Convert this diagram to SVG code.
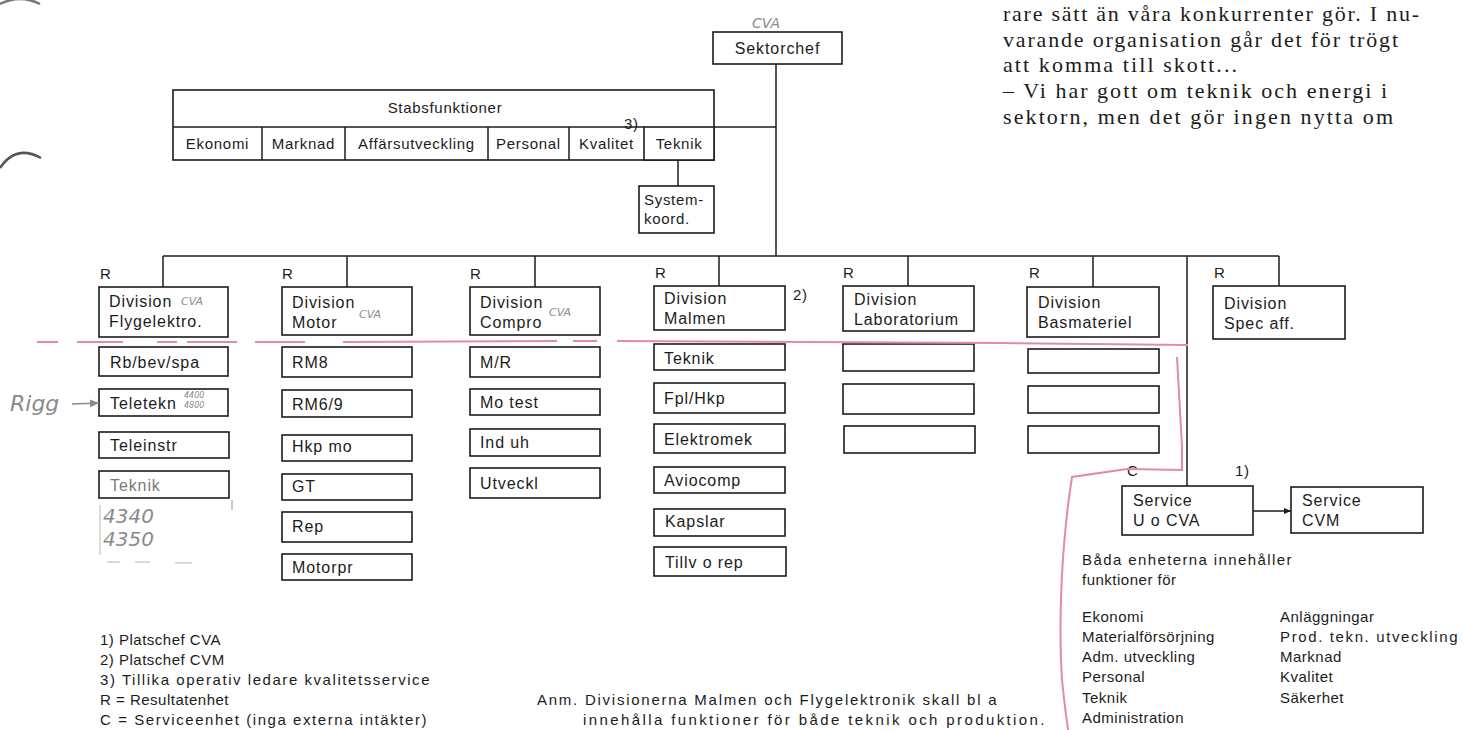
<svg xmlns="http://www.w3.org/2000/svg" width="1464" height="730" viewBox="0 0 1464 730">
<style>
.bg{fill:#fff}
.box{fill:#fff;stroke:#1c1c1c;stroke-width:1.6}
.ln{fill:none;stroke:#1c1c1c;stroke-width:1.5}
.t{font-family:'Liberation Sans',Arial,sans-serif;font-size:16px;fill:#1c1c1c;letter-spacing:0.9px}
.s{font-family:'Liberation Sans',Arial,sans-serif;font-size:15px;fill:#1c1c1c;letter-spacing:0.7px}
.lg{font-family:'Liberation Sans',Arial,sans-serif;font-size:15px;fill:#1c1c1c;letter-spacing:0.5px}
.serif{font-family:'Liberation Serif','Times New Roman',serif;font-size:22px;fill:#1c1c1c}
.hand{font-family:'DejaVu Sans',sans-serif;font-style:italic;fill:#8a8a8a}
.gray{fill:#7a7a7a}
.pink{fill:none;stroke:#e38aa5;stroke-width:2}
</style>
<defs>
<marker id="arr" markerWidth="8" markerHeight="8" refX="7" refY="4" orient="auto" markerUnits="userSpaceOnUse">
<path d="M0,1 L7,4 L0,7 Z" fill="#1c1c1c"/>
</marker>
<marker id="harr" markerWidth="10" markerHeight="10" refX="9" refY="5" orient="auto" markerUnits="userSpaceOnUse">
<path d="M0,1 L9,5 L0,9 Z" fill="#8a8a8a"/>
</marker>
</defs>
<rect class="bg" x="0" y="0" width="1464" height="730"/>

<!-- page hole arcs -->
<path d="M0,4 Q20,-6 40,4" fill="none" stroke="#777" stroke-width="2.5"/>
<path d="M0,168 Q16,144 41,158" fill="none" stroke="#555" stroke-width="2.5"/>

<!-- top-right article text -->
<g id="article">
<text class="serif" x="1003" y="21" textLength="416" lengthAdjust="spacing">rare sätt än våra konkurrenter gör. I nu-</text>
<text class="serif" x="1003" y="47" textLength="395" lengthAdjust="spacing">varande organisation går det för trögt</text>
<text class="serif" x="1003" y="72" textLength="234" lengthAdjust="spacing">att komma till skott...</text>
<text class="serif" x="1003" y="98" textLength="384" lengthAdjust="spacing">– Vi har gott om teknik och energi i</text>
<text class="serif" x="1003" y="124" textLength="390" lengthAdjust="spacing">sektorn, men det gör ingen nytta om</text>
</g>

<!-- connectors -->
<g id="connectors">
<line class="ln" x1="776" y1="64" x2="776" y2="256"/>
<line class="ln" x1="644" y1="127" x2="776" y2="127"/>
<line class="ln" x1="678" y1="160" x2="678" y2="186"/>
<line class="ln" x1="163" y1="256" x2="1279" y2="256"/>
<line class="ln" x1="163" y1="256" x2="163" y2="287"/>
<line class="ln" x1="347" y1="256" x2="347" y2="287"/>
<line class="ln" x1="535" y1="256" x2="535" y2="287"/>
<line class="ln" x1="719" y1="256" x2="719" y2="286"/>
<line class="ln" x1="908" y1="256" x2="908" y2="286"/>
<line class="ln" x1="1093" y1="256" x2="1093" y2="287"/>
<line class="ln" x1="1279" y1="256" x2="1279" y2="286"/>
<line class="ln" x1="1187" y1="256" x2="1187" y2="486"/>
<line class="ln" x1="1253" y1="511" x2="1291" y2="511" stroke-width="1.2" marker-end="url(#arr)"/>
</g>

<!-- top -->
<g id="sektorchef">
<rect class="box" x="713" y="32" width="129" height="32"/>
<text class="t" x="777.5" y="54" text-anchor="middle">Sektorchef</text>
<text class="hand" x="766" y="28" font-size="14" text-anchor="middle">CVA</text>
</g>

<g id="stabsfunktioner">
<rect class="box" x="173" y="90" width="541" height="70"/>
<line class="ln" x1="173" y1="127" x2="644" y2="127"/>
<line class="ln" x1="262" y1="127" x2="262" y2="160"/>
<line class="ln" x1="345" y1="127" x2="345" y2="160"/>
<line class="ln" x1="488" y1="127" x2="488" y2="160"/>
<line class="ln" x1="569" y1="127" x2="569" y2="160"/>
<text class="s" x="445" y="113" text-anchor="middle">Stabsfunktioner</text>
<text class="s" x="217.5" y="149" text-anchor="middle">Ekonomi</text>
<text class="s" x="303.5" y="149" text-anchor="middle">Marknad</text>
<text class="s" x="416.5" y="149" text-anchor="middle">Affärsutveckling</text>
<text class="s" x="528.5" y="149" text-anchor="middle">Personal</text>
<text class="s" x="606.5" y="149" text-anchor="middle">Kvalitet</text>
<text class="s" x="624" y="129">3)</text>
</g>
<g id="stab-teknik">
<rect class="box" x="644" y="127" width="70" height="33"/>
<text class="s" x="679" y="149" text-anchor="middle">Teknik</text>
</g>
<g id="systemkoord">
<rect class="box" x="639" y="186" width="75" height="47"/>
<text class="s" x="644" y="205">System-</text>
<text class="s" x="644" y="224">koord.</text>
</g>

<!-- divisions -->
<g id="div-flygelektro">
<text class="s" x="100" y="279">R</text>
<rect class="box" x="99" y="287" width="129" height="50"/>
<text class="t" x="109" y="307">Division</text>
<text class="t" x="109" y="327">Flygelektro.</text>
<text class="hand" x="181" y="305" font-size="11">CVA</text>
</g>
<g id="div-motor">
<text class="s" x="282" y="279">R</text>
<rect class="box" x="282" y="287" width="130" height="48"/>
<text class="t" x="292" y="308">Division</text>
<text class="t" x="292" y="328">Motor</text>
<text class="hand" x="359" y="318" font-size="11">CVA</text>
</g>
<g id="div-compro">
<text class="s" x="470" y="279">R</text>
<rect class="box" x="470" y="287" width="130" height="48"/>
<text class="t" x="480" y="308">Division</text>
<text class="t" x="480" y="328">Compro</text>
<text class="hand" x="549" y="316" font-size="11">CVA</text>
</g>
<g id="div-malmen">
<text class="s" x="655" y="278">R</text>
<rect class="box" x="654" y="286" width="131" height="44"/>
<text class="t" x="664" y="304">Division</text>
<text class="t" x="664" y="324">Malmen</text>
<text class="s" x="793" y="300">2)</text>
</g>
<g id="div-laboratorium">
<text class="s" x="843" y="278">R</text>
<rect class="box" x="843" y="286" width="131" height="45"/>
<text class="t" x="854" y="305">Division</text>
<text class="t" x="854" y="325">Laboratorium</text>
</g>
<g id="div-basmateriel">
<text class="s" x="1029" y="278">R</text>
<rect class="box" x="1027" y="287" width="132" height="50"/>
<text class="t" x="1038" y="308">Division</text>
<text class="t" x="1038" y="328">Basmateriel</text>
</g>
<g id="div-specaff">
<text class="s" x="1214" y="278">R</text>
<rect class="box" x="1213" y="286" width="132" height="53"/>
<text class="t" x="1224" y="309">Division</text>
<text class="t" x="1224" y="329">Spec aff.</text>
</g>

<!-- Flygelektro units -->
<g id="u-rbbevspa"><rect class="box" x="99" y="347" width="129" height="29"/><text class="t" x="110" y="368">Rb/bev/spa</text></g>
<g id="u-teletekn"><rect class="box" x="99" y="389" width="129" height="27"/><text class="t" x="110" y="409">Teletekn</text>
<text class="hand" x="184" y="398" font-size="8">4400</text><text class="hand" x="184" y="408" font-size="8">4800</text></g>
<g id="u-teleinstr"><rect class="box" x="99" y="432" width="130" height="26"/><text class="t" x="110" y="451">Teleinstr</text></g>
<g id="u-teknik-fe"><rect class="box" x="99" y="471" width="130" height="27"/><text class="t gray" x="110" y="491">Teknik</text></g>
<g id="handnotes">
<text class="hand" x="10" y="411" font-size="22">Rigg</text>
<line x1="72" y1="404" x2="99" y2="403" stroke="#8a8a8a" stroke-width="1.5" marker-end="url(#harr)"/>
<text class="hand" x="103" y="523" font-size="20">4340</text>
<text class="hand" x="103" y="546" font-size="20">4350</text>
<line x1="100" y1="505" x2="100" y2="555" stroke="#d0d0d0" stroke-width="1.5"/>
<line x1="232" y1="500" x2="232" y2="510" stroke="#bbb" stroke-width="1.5"/>
<line x1="107" y1="562" x2="120" y2="562" stroke="#ccc" stroke-width="1.5"/>
<line x1="135" y1="562" x2="150" y2="562" stroke="#ccc" stroke-width="1.5"/>
<line x1="175" y1="563" x2="192" y2="563" stroke="#ccc" stroke-width="1.5"/>
</g>

<!-- Motor units -->
<g id="u-rm8"><rect class="box" x="282" y="347" width="130" height="30"/><text class="t" x="292" y="368">RM8</text></g>
<g id="u-rm69"><rect class="box" x="282" y="390" width="130" height="27"/><text class="t" x="292" y="410">RM6/9</text></g>
<g id="u-hkpmo"><rect class="box" x="282" y="435" width="130" height="26"/><text class="t" x="292" y="452">Hkp mo</text></g>
<g id="u-gt"><rect class="box" x="282" y="474" width="130" height="26"/><text class="t" x="292" y="492">GT</text></g>
<g id="u-rep"><rect class="box" x="282" y="512" width="130" height="30"/><text class="t" x="292" y="532">Rep</text></g>
<g id="u-motorpr"><rect class="box" x="282" y="554" width="130" height="26"/><text class="t" x="292" y="573">Motorpr</text></g>

<!-- Compro units -->
<g id="u-mr"><rect class="box" x="470" y="347" width="130" height="30"/><text class="t" x="480" y="368">M/R</text></g>
<g id="u-motest"><rect class="box" x="470" y="389" width="130" height="26"/><text class="t" x="480" y="408">Mo test</text></g>
<g id="u-induh"><rect class="box" x="470" y="429" width="130" height="27"/><text class="t" x="480" y="448">Ind uh</text></g>
<g id="u-utveckl"><rect class="box" x="470" y="468" width="130" height="30"/><text class="t" x="480" y="489">Utveckl</text></g>

<!-- Malmen units -->
<g id="u-teknik-m"><rect class="box" x="654" y="344" width="131" height="26"/><text class="t" x="664" y="364">Teknik</text></g>
<g id="u-fplhkp"><rect class="box" x="654" y="383" width="131" height="30"/><text class="t" x="664" y="404">Fpl/Hkp</text></g>
<g id="u-elektromek"><rect class="box" x="654" y="424" width="131" height="29"/><text class="t" x="664" y="445">Elektromek</text></g>
<g id="u-aviocomp"><rect class="box" x="654" y="467" width="131" height="26"/><text class="t" x="664" y="486">Aviocomp</text></g>
<g id="u-kapslar"><rect class="box" x="654" y="509" width="131" height="27"/><text class="t" x="665" y="527">Kapslar</text></g>
<g id="u-tillvorep"><rect class="box" x="654" y="547" width="132" height="29"/><text class="t" x="665" y="568">Tillv o rep</text></g>

<!-- Laboratorium empty units -->
<g id="u-lab1"><rect class="box" x="843" y="344" width="131" height="27"/></g>
<g id="u-lab2"><rect class="box" x="843" y="384" width="131" height="30"/></g>
<g id="u-lab3"><rect class="box" x="844" y="426" width="131" height="27"/></g>

<!-- Basmateriel empty units -->
<g id="u-bas1"><rect class="box" x="1028" y="349" width="131" height="24"/></g>
<g id="u-bas2"><rect class="box" x="1028" y="386" width="131" height="27"/></g>
<g id="u-bas3"><rect class="box" x="1028" y="426" width="131" height="27"/></g>

<!-- Service -->
<g id="service-uocva">
<text class="s" x="1127" y="476">C</text>
<text class="s" x="1235" y="476">1)</text>
<rect class="box" x="1122" y="486" width="131" height="49"/>
<text class="t" x="1133" y="506">Service</text>
<text class="t" x="1133" y="526">U o CVA</text>
</g>
<g id="service-cvm">
<rect class="box" x="1291" y="487" width="132" height="46"/>
<text class="t" x="1302" y="506">Service</text>
<text class="t" x="1302" y="526">CVM</text>
</g>

<!-- pink pen marks -->
<g id="pen">
<path class="pink" d="M37,342 L58,342 M77,342 L123,342 M157,342 L177,342 M187,342 L237,342 M255,342 L305,342 M343,342 L557,341 M573,341 L597,341 M617,341 L1000,343 L1188,345"/>
<path class="pink" d="M1177,357 L1182,447 L1182,470 L1127,469 L1072,477 C1062,540 1058,620 1062,680 C1064,700 1066,715 1068,730"/>
</g>

<!-- legends -->
<g id="legend">
<text class="lg" x="100" y="645">1) Platschef CVA</text>
<text class="lg" x="100" y="665">2) Platschef CVM</text>
<text class="lg" x="100" y="685" textLength="330" lengthAdjust="spacing">3) Tillika operativ ledare kvalitetsservice</text>
<text class="lg" x="100" y="705">R = Resultatenhet</text>
<text class="lg" x="100" y="725" textLength="327" lengthAdjust="spacing">C = Serviceenhet (inga externa intäkter)</text>
</g>
<g id="anm">
<text class="lg" x="537" y="705" textLength="460" lengthAdjust="spacing">Anm. Divisionerna Malmen och Flygelektronik skall bl a</text>
<text class="lg" x="583" y="725" textLength="462" lengthAdjust="spacing">innehålla funktioner för både teknik och produktion.</text>
</g>
<g id="funktioner">
<text class="lg" x="1082" y="565" textLength="210" lengthAdjust="spacing">Båda enheterna innehåller</text>
<text class="lg" x="1082" y="585">funktioner för</text>
<text class="lg" x="1082" y="622">Ekonomi</text>
<text class="lg" x="1082" y="642">Materialförsörjning</text>
<text class="lg" x="1082" y="662">Adm. utveckling</text>
<text class="lg" x="1082" y="682">Personal</text>
<text class="lg" x="1082" y="703">Teknik</text>
<text class="lg" x="1082" y="723">Administration</text>
<text class="lg" x="1280" y="622">Anläggningar</text>
<text class="lg" x="1280" y="642" textLength="178" lengthAdjust="spacing">Prod. tekn. utveckling</text>
<text class="lg" x="1280" y="662">Marknad</text>
<text class="lg" x="1280" y="682">Kvalitet</text>
<text class="lg" x="1280" y="703">Säkerhet</text>
</g>
</svg>
